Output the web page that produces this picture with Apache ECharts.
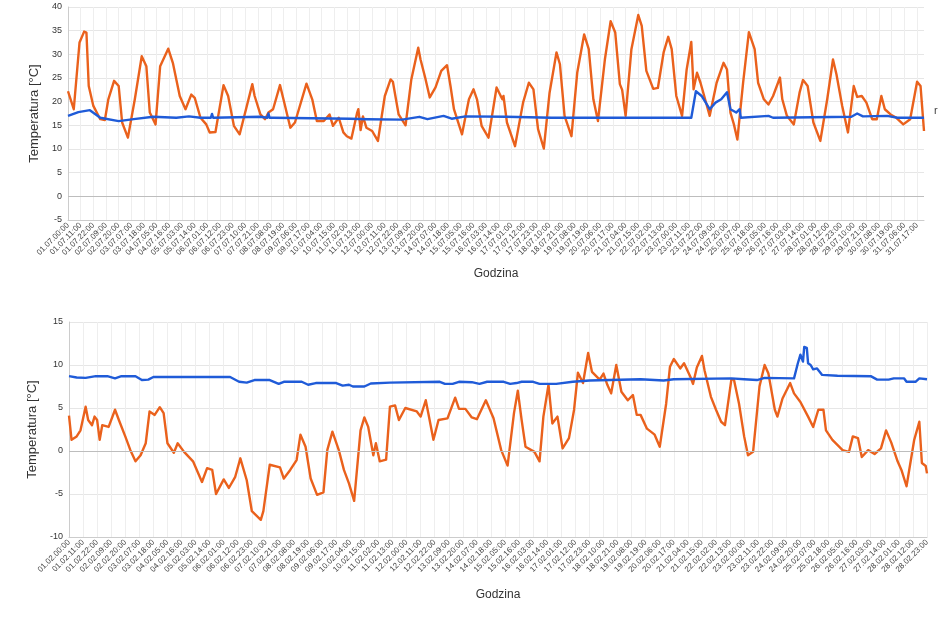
<!DOCTYPE html>
<html>
<head>
<meta charset="utf-8">
<script src="https://cdn.jsdelivr.net/npm/echarts@6/dist/echarts.min.js"></script>
<style>
  html, body { margin: 0; padding: 0; background: #fff; }
  #wykres { width: 940px; height: 627px; }
</style>
</head>
<body>
<div id="wykres"></div>
<script>
// lipiec - [godzina od 01.07 00:00, temperatura]
var lipiecZew = [[0,22.2],[5,18.4],[10,32.5],[14,34.8],[16,34.6],[18,23.3],[22,19.1],[28,16.3],[32,16.1],[35,20.5],[40,24.4],[44,23.3],[47,15.6],[52,12.4],[58,20.5],[64,29.6],[68,27.5],[71,17.7],[76,15.2],[80,27.5],[87,31.2],[91,28.2],[97,21.2],[102,18.4],[107,21.5],[110,20.8],[115,16.6],[120,15.2],[123,13.5],[128,13.6],[135,23.5],[139,21.2],[144,14.9],[149,13.1],[160,23.7],[162,21.2],[167,17.3],[171,16.3],[174,17.7],[178,18.4],[184,23.5],[187,20.5],[193,14.5],[197,15.6],[207,23.8],[212,20.5],[216,15.9],[222,15.9],[227,17.3],[230,14.9],[235,16.6],[239,13.5],[242,12.7],[246,12.2],[251,17.7],[252,18.4],[254,14],[256,16.9],[259,14.5],[264,13.8],[269,11.7],[275,21.2],[280,24.7],[282,24.2],[287,17.3],[293,15],[298,24.7],[304,31.4],[306,28.9],[310,25.1],[314,20.9],[319,23],[324,26.5],[329,27.7],[332,23.3],[335,18.4],[342,13.1],[348,20.5],[352,22.6],[355,20.5],[359,14.9],[365,12.4],[372,23],[374,22],[377,20.5],[378,21.2],[381,15.6],[388,10.6],[395,19.8],[400,24],[404,22.6],[408,14.2],[413,10.1],[418,21.9],[424,30.4],[427,27.9],[431,17],[437,12.7],[442,26.1],[448,34.2],[452,31.1],[456,20.5],[460,15.9],[466,28.9],[471,37],[475,34.6],[479,23.7],[481,22.5],[484,17],[489,31],[495,38.3],[498,36],[502,26.5],[508,22.7],[512,22.9],[517,30.4],[521,33.7],[524,31.1],[528,21.2],[533,17],[537,26.8],[541,32.6],[543,22.6],[546,26.1],[549,24],[553,20.5],[557,17],[563,24],[569,28.2],[572,26.8],[575,17.7],[578,15.2],[581,12],[586,24],[591,34.7],[596,31.1],[599,24],[604,20.5],[608,19.4],[612,21.2],[618,25.1],[620,20.5],[624,17],[630,15.2],[635,21.9],[638,24.6],[642,23.3],[647,15.6],[653,11.7],[659,20.5],[664,28.9],[667,25.8],[672,19.1],[677,13.5],[682,23.3],[685,21],[689,21.2],[693,19.8],[698,16.3],[702,16.3],[706,21.2],[709,18.4],[714,17.3],[719,16.6],[725,15.2],[731,16.3],[737,24.2],[740,23.3],[743,13.8]];
var lipiecWew = [[0,17.0],[9,17.8],[19,18.2],[28,16.6],[44,15.9],[57,16.3],[74,16.8],[94,16.6],[105,16.9],[115,16.6],[124,16.6],[125,17.4],[126,16.6],[167,16.8],[173,16.6],[174,17.5],[175,16.6],[178,16.6],[245,16.4],[260,16.3],[290,16.2],[305,16.8],[312,16.3],[326,17],[333,16.4],[345,16.9],[380,16.8],[420,16.6],[541,16.6],[545,22.2],[550,21.2],[557,18.4],[562,19.8],[567,20.5],[572,22],[575,18.4],[580,17.7],[583,18.4],[584,16.6],[608,17],[612,16.6],[680,16.8],[685,17.5],[690,16.9],[711,17],[720,16.6],[743,16.6]];

// luty - [godzina od 01.02 00:00, temperatura]
var lutyZew = [[0,4.1],[2,1.3],[6,1.7],[9,2.4],[13,5.15],[15,3.6],[18,3.0],[20,4.0],[22,3.6],[24,1.3],[26,3.0],[31,2.8],[36,4.8],[39,3.6],[44,1.7],[48,0.1],[52,-1.2],[56,-0.5],[60,0.9],[63,4.6],[67,4.2],[71,5.1],[74,4.4],[77,0.9],[82,-0.2],[85,0.9],[90,-0.1],[97,-1.2],[104,-3.6],[108,-2.0],[112,-2.2],[115,-5.0],[121,-3.3],[125,-4.3],[130,-3.0],[134,-0.85],[139,-3.4],[143,-7.0],[150,-8.0],[152,-7],[157,-1.6],[165,-1.9],[168,-3.2],[173,-2.2],[178,-1.05],[181,1.9],[185,0.5],[189,-3.2],[194,-5.1],[199,-4.8],[202,0.1],[206,2.25],[211,0.1],[215,-2.2],[219,-3.8],[223,-5.8],[228,2.4],[231,3.9],[234,2.8],[238,-0.5],[240,0.9],[243,-1.2],[248,-1],[251,5.15],[255,5.3],[258,3.6],[263,5.0],[272,4.6],[275,4.0],[279,5.9],[281,4.4],[285,1.3],[289,3.6],[296,3.8],[302,6.2],[305,4.9],[310,4.9],[315,3.9],[319,3.7],[326,5.9],[332,3.8],[338,0.1],[343,-1.7],[348,4.4],[351,7.0],[354,3.6],[357,0.5],[364,-0.1],[368,-1.2],[371,4.0],[375,7.7],[378,3.2],[382,4.0],[386,0.3],[391,1.5],[395,4.8],[398,9.1],[402,7.9],[406,11.4],[409,9.2],[415,8.3],[418,9.0],[421,7.7],[424,6.7],[428,10],[432,6.9],[437,5.9],[441,6.5],[444,4.2],[447,4.2],[452,2.6],[458,1.9],[462,0.5],[467,5.5],[470,9.8],[473,10.7],[478,9.6],[481,10.2],[486,8.6],[488,7.8],[491,9.7],[495,11.05],[497,9.4],[502,6.3],[506,4.8],[510,3.4],[513,3.0],[518,8.3],[520,8.3],[524,5.5],[528,1.7],[531,-0.5],[535,-0.1],[540,7.5],[544,10],[547,9.0],[552,4.8],[554,4.0],[558,6.1],[564,7.9],[567,6.7],[572,5.7],[578,4.0],[582,2.8],[586,4.8],[590,4.8],[592,2.4],[597,1.3],[605,0.1],[610,-0.1],[613,1.7],[617,1.5],[620,-0.7],[625,0.1],[630,-0.35],[635,0.3],[639,2.4],[643,1.0],[648,-1.2],[651,-2.2],[655,-4.1],[659,-0.5],[661,1.3],[665,3.4],[667,-1.4],[670,-1.75],[671,-2.6]];
var lutyWew = [[0,8.7],[6,8.55],[13,8.5],[21,8.7],[30,8.7],[36,8.45],[41,8.7],[52,8.7],[57,8.25],[62,8.3],[66,8.6],[126,8.6],[133,8.05],[139,7.95],[145,8.25],[157,8.25],[164,7.8],[168,8.05],[182,8.05],[187,7.7],[193,7.9],[209,7.9],[214,7.6],[219,7.7],[222,7.5],[231,7.5],[236,7.85],[251,7.95],[290,8.05],[294,7.8],[300,7.8],[305,8.05],[315,8.0],[321,7.8],[327,8.05],[340,8.05],[345,7.8],[350,7.9],[354,8.05],[363,8.05],[368,7.8],[381,7.8],[394,8.05],[407,8.2],[447,8.35],[465,8.2],[473,8.35],[518,8.45],[528,8.35],[538,8.25],[544,8.5],[567,8.45],[570,10.2],[572,11.2],[574,10.4],[575,12.1],[577,12],[578,10.2],[580,10],[582,9.5],[585,9.6],[589,8.85],[601,8.75],[627,8.7],[632,8.3],[641,8.3],[645,8.45],[653,8.45],[655,8.05],[662,8.05],[665,8.45],[671,8.35]];

// etykiety osi X (co godzine)
function godziny(miesiac, dni) {
    var out = []
    for (var d = 1; d <= dni; d++) {
        for (var h = 0; h < 24; h++) {
            out.push((d < 10 ? '0' + d : d) + '.' + miesiac + '.' + (h < 10 ? '0' + h : h) + ':00')
        }
    }
    return out
}
var lipiecGodziny = godziny('07', 31);
var lutyGodziny = godziny('02', 28);

var kolorZew = '#ea611c';
var kolorWew = '#1f5bd8';
var czcionka = 'Liberation Sans, Arial, sans-serif';

function osX(idx, kategorie, gap) {
    return {
        type: 'category', gridIndex: idx, data: kategorie, boundaryGap: false,
        name: 'Godzina', nameLocation: 'middle', nameGap: gap,
        nameTextStyle: { fontFamily: czcionka, fontSize: 12, color: '#333' },
        axisLine: { onZero: false, lineStyle: { color: '#ccc' } },
        axisTick: { show: false },
        axisLabel: { interval: 10, rotate: 45, fontSize: 8, color: '#444', fontFamily: czcionka, margin: 4 },
        splitLine: { show: true, interval: 10, lineStyle: { color: '#eeeeee' } }
    }
}
function osY(idx, min, max) {
    return {
        type: 'value', gridIndex: idx, min: min, max: max, interval: 5,
        name: 'Temperatura [°C]', nameLocation: 'middle', nameGap: 25,
        nameTextStyle: { fontFamily: czcionka, fontSize: 13, color: '#333' },
        axisLine: { show: true, lineStyle: { color: '#ccc' } },
        axisTick: { show: false },
        axisLabel: { fontSize: 9, color: '#333', fontFamily: czcionka, margin: 6 },
        splitLine: { lineStyle: { color: '#e6e6e6' } }
    }
}
function seria(idx, dane, kolor, zero) {
    var s = {
        type: 'line', xAxisIndex: idx, yAxisIndex: idx, data: dane,
        showSymbol: false, symbol: 'none', animation: false,
        lineStyle: { color: kolor, width: 2.4, join: 'round' }
    }
    if (zero) {
        s.markLine = { silent: true, symbol: 'none', label: { show: false },
            lineStyle: { color: '#bdbdbd', type: 'solid', width: 1 }, data: [{ yAxis: 0 }] }
    }
    return s
}

var wykres = echarts.init(document.getElementById('wykres'));
var option = {
    backgroundColor: '#fff',
    grid: [
        { left: 68, right: 16, top: 7, height: 213 },
        { left: 69, right: 13, top: 322, height: 215 }
    ],
    xAxis: [osX(0, lipiecGodziny, 48), osX(1, lutyGodziny, 52)],
    yAxis: [osY(0, -5, 40), osY(1, -10, 15)],
    graphic: [{ type: 'text', left: 934, top: 105, style: { text: 'r', fontSize: 11, fill: '#444', fontFamily: czcionka } }],
    series: [
        seria(0, lipiecZew, kolorZew, true),
        seria(0, lipiecWew, kolorWew, false),
        seria(1, lutyZew, kolorZew, true),
        seria(1, lutyWew, kolorWew, false)
    ]
};
wykres.setOption(option);
</script>
</body>
</html>
